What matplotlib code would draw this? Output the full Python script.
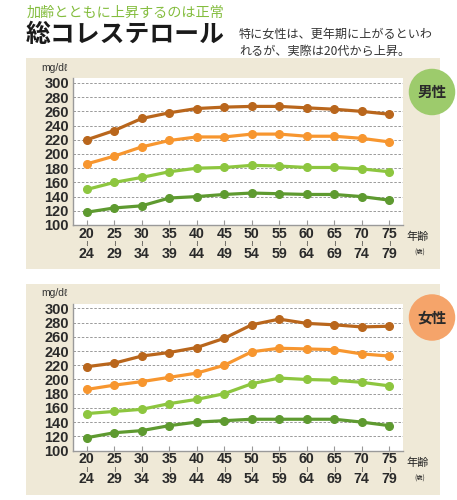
import matplotlib.pyplot as plt
from matplotlib.patches import Rectangle, Ellipse

# age groups (x categories)
age_start = ["20", "25", "30", "35", "40", "45", "50", "55", "60", "65", "70", "75"]
age_end = ["24", "29", "34", "39", "44", "49", "54", "59", "64", "69", "74", "79"]
y_ticks = [100, 120, 140, 160, 180, 200, 220, 240, 260, 280, 300]

# men, four lines from top to bottom
men_top = [220, 233, 250, 258, 264, 266, 267, 267, 265, 263, 260, 256]
men_upper = [186, 197, 210, 219, 224, 224, 228, 228, 225, 225, 222, 217]
men_mid = [150, 160, 167, 175, 180, 181, 184, 183, 181, 181, 179, 175]
men_low = [118, 124, 127, 138, 140, 143, 145, 144, 143, 143, 140, 135]

# women
women_top = [218, 223, 233, 238, 245, 258, 277, 285, 279, 277, 274, 275]
women_upper = [186, 192, 197, 203, 209, 220, 239, 244, 243, 242, 236, 233]
women_mid = [152, 155, 158, 166, 172, 180, 194, 202, 200, 199, 196, 191]
women_low = [118, 125, 128, 135, 140, 142, 144, 144, 144, 144, 140, 135]

line_colors = ["#b9661c", "#f7962f", "#8dc63f", "#5e9a30"]

JP = ["Noto Sans CJK JP", "DejaVu Sans"]
NUM = ["Liberation Sans Narrow", "Liberation Sans", "DejaVu Sans"]

W, H = 457, 500
fig = plt.figure(figsize=(W / 100, H / 100), dpi=100)
fig.patch.set_facecolor("white")


def fx(px):
    return px / W


def fy(py):
    return 1 - py / H


# header texts
fig.text(fx(27), fy(12.5), "加齢とともに上昇するのは正常", family=JP, fontsize=10.2,
         color="#84bd3e", va="center", ha="left")
fig.text(fx(26), fy(35), "総コレステロール", family=JP, fontsize=17.9, weight="bold",
         color="#1a1a1a", va="center", ha="left")
fig.text(fx(239), fy(34), "特に女性は、更年期に上がるといわ", family=JP, fontsize=8.7,
         color="#333333", va="center", ha="left")
fig.text(fx(239), fy(51), "れるが、実際は20代から上昇。", family=JP, fontsize=8.7,
         color="#333333", va="center", ha="left")


def draw_panel(top_px, series, badge, badge_color):
    # beige background
    fig.add_artist(Rectangle((fx(26), fy(top_px + 211)), fx(414), 211 / H,
                             transform=fig.transFigure, facecolor="#efe9d7",
                             edgecolor="none", zorder=-2))
    ax_top = top_px + 20
    ax_bot = top_px + 167
    ax = fig.add_axes([fx(73), fy(ax_bot), fx(403 - 73), (ax_bot - ax_top) / H])
    ax.set_facecolor("white")
    x = list(range(len(age_start)))
    for vals, c in zip(series, line_colors):
        ax.plot(x, vals, color=c, lw=2.3, marker="o", ms=5.5, solid_capstyle="round")
    ax.set_xlim(-0.5, 11.5)
    ax.set_ylim(100, 307)
    ax.set_yticks(y_ticks)
    ax.set_yticklabels([str(v) for v in y_ticks], family=NUM, fontsize=10.5,
                       weight="bold", color="#2a2a2a")
    for v in y_ticks[1:]:
        ax.axhline(v, color="#8a8a8a", lw=0.6, ls=(0, (3, 2)), zorder=0)
    ax.tick_params(axis="y", length=0, pad=3)
    ax.set_xticks(x)
    ax.set_xticklabels([])
    ax.tick_params(axis="x", direction="in", length=3.6, color="#999999", width=0.8)
    for s in ["top", "right"]:
        ax.spines[s].set_visible(False)
    for s in ["left", "bottom"]:
        ax.spines[s].set_color("#9a9a9a")
        ax.spines[s].set_linewidth(1.0)
    for i in x:
        ax.annotate(age_start[i], xy=(i, 0), xycoords=("data", "axes fraction"),
                    xytext=(0, -6.2), textcoords="offset points", ha="center",
                    va="center", family=NUM, fontsize=10.2, weight="bold", color="#2a2a2a")
        ax.annotate("≀", xy=(i, 0), xycoords=("data", "axes fraction"),
                    xytext=(0, -13.6), textcoords="offset points", ha="center",
                    va="center", fontsize=5.5, color="#2a2a2a")
        ax.annotate(age_end[i], xy=(i, 0), xycoords=("data", "axes fraction"),
                    xytext=(0, -20.6), textcoords="offset points", ha="center",
                    va="center", family=NUM, fontsize=10.2, weight="bold", color="#2a2a2a")
    fig.text(fx(418), fy(ax_bot + 12), "年齢", family=JP, fontsize=8, color="#222",
             ha="center", va="center")
    fig.text(fx(420), fy(ax_bot + 28), "(歳)", family=JP, fontsize=4.5, color="#222",
             ha="center", va="center")
    fig.text(fx(54), fy(top_px + 10), "mg/dℓ", family=NUM, fontsize=7.5, color="#333",
             ha="center", va="center")
    # badge circle
    cy = top_px + 34
    fig.add_artist(Ellipse((fx(432), fy(cy)), 46.5 / W, 46.5 / H,
                           transform=fig.transFigure, facecolor=badge_color,
                           edgecolor="none", zorder=3))
    fig.text(fx(432), fy(cy), badge, family=JP, fontsize=10.5, weight="bold",
             color="#2a2a2a", ha="center", va="center", zorder=4)


draw_panel(58, [men_top, men_upper, men_mid, men_low], "男性", "#9dcb6c")
draw_panel(283.5, [women_top, women_upper, women_mid, women_low], "女性", "#f5a46a")

fig.savefig("out.png", dpi=100)
